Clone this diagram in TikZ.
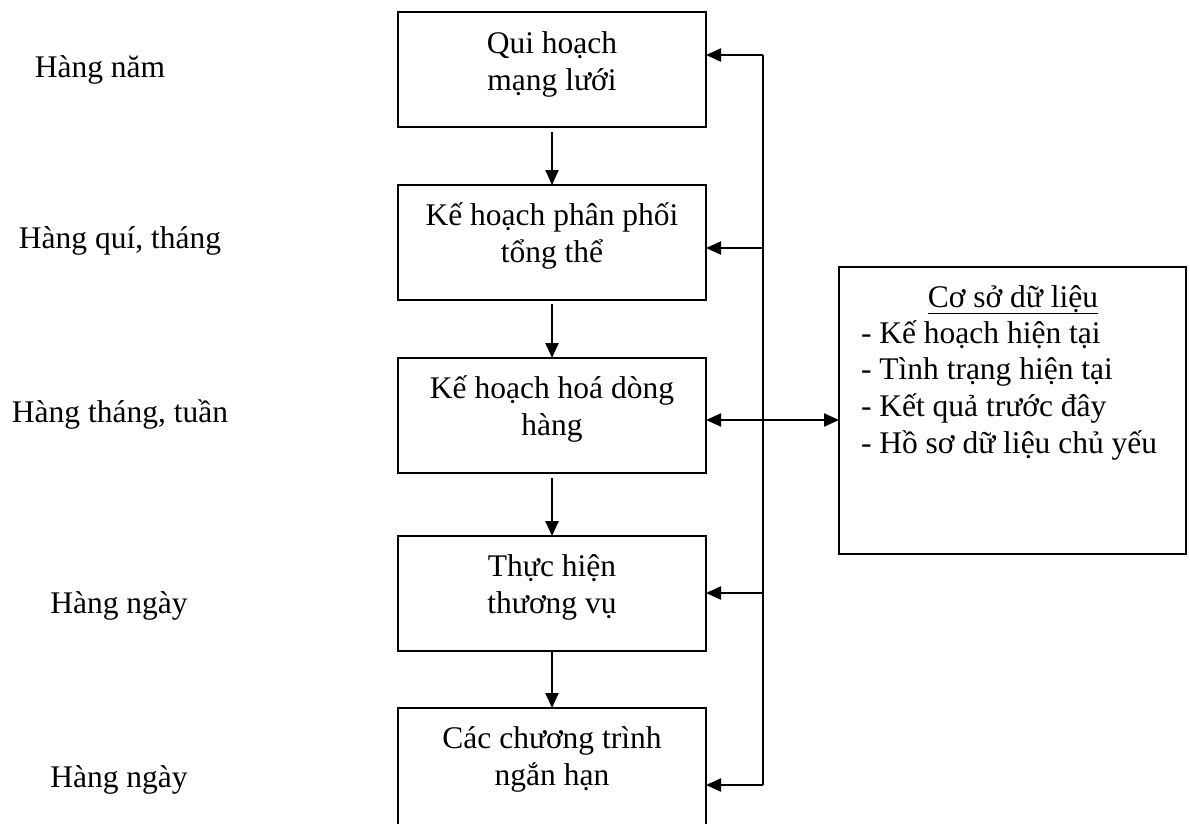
\documentclass[tikz,border=0pt]{standalone}
\usepackage{fontspec}
\setmainfont{Liberation Serif}
\usetikzlibrary{arrows.meta}
\begin{document}
\begin{tikzpicture}[x=1pt,y=-1pt,
  every node/.style={inner sep=0pt,outer sep=0pt},
  txt/.style={font=\fontsize{31.5}{37}\selectfont,anchor=base,align=center},
  ltxt/.style={font=\fontsize{31.5}{37}\selectfont,anchor=base west},
  stepbox/.style={draw,line width=2pt,minimum width=308pt,minimum height=115pt},
  conn/.style={line width=2.2pt},
  arr/.style={conn,-{Triangle[length=15pt,width=13pt]}},
  darr/.style={conn,{Triangle[length=15pt,width=13pt]}-{Triangle[length=15pt,width=13pt]}}]
\path[use as bounding box,clip] (0,0) rectangle (1190,823);
\fill[white] (0,0) rectangle (1190,823);
% boxes
\node[stepbox] (b1) at (552,69.5) {};
\node[stepbox] (b2) at (552,242.5) {};
\node[stepbox] (b3) at (552,415.5) {};
\node[stepbox] (b4) at (552,593.5) {};
\node[stepbox,minimum height=120pt] (b5) at (552,768) {};
\node[draw,line width=2pt,minimum width=347pt,minimum height=287pt] (db) at (1012.5,410.5) {};
% box texts (base anchor = last line)
\node[txt] (t1) at (552,90) {Qui hoạch\\mạng lưới};
\node[txt] (t2) at (552,262) {Kế hoạch phân phối\\tổng thể};
\node[txt] (t3) at (552,435) {Kế hoạch hoá dòng\\hàng};
\node[txt] (t4) at (552,613) {Thực hiện\\thương vụ};
\node[txt] (t5) at (552,785) {Các chương trình\\ngắn hạn};
% left labels
\node[txt] (l1) at (100,77) {Hàng năm};
\node[txt] (l2) at (120,248) {Hàng quí, tháng};
\node[txt] (l3) at (120,422) {Hàng tháng, tuần};
\node[txt] (l4) at (119,613) {Hàng ngày};
\node[txt] (l5) at (119,787) {Hàng ngày};
% database text
\node[txt] (dbt) at (1013,307) {\underline{Cơ sở dữ liệu}};
\node[ltxt] (d1) at (861,343) {- Kế hoạch hiện tại};
\node[ltxt] (d2) at (861,379.7) {- Tình trạng hiện tại};
\node[ltxt] (d3) at (861,416.3) {- Kết quả trước đây};
\node[ltxt] (d4) at (861,453) {- Hồ sơ dữ liệu chủ yếu};
% down arrows
\draw[arr,shorten <=5pt] (b1) -- (b2);
\draw[arr,shorten <=4pt] (b2) -- (b3);
\draw[arr,shorten <=5pt] (b3) -- (b4);
\draw[arr] (b4) -- (b5);
% feedback line
\coordinate (v1) at (763,55);
\coordinate (v2) at (763,248);
\coordinate (v3) at (763,420);
\coordinate (v4) at (763,593);
\coordinate (v5) at (763,785);
\draw[conn] (v1) -- (v5);
\draw[arr] (v1) -- (b1.east |- v1);
\draw[arr] (v2) -- (b2.east |- v2);
\draw[arr] (v4) -- (b4.east |- v4);
\draw[arr] (v5) -- (b5.east |- v5);
\draw[darr] (b3.east |- v3) -- (db.west |- v3);
\end{tikzpicture}
\end{document}
